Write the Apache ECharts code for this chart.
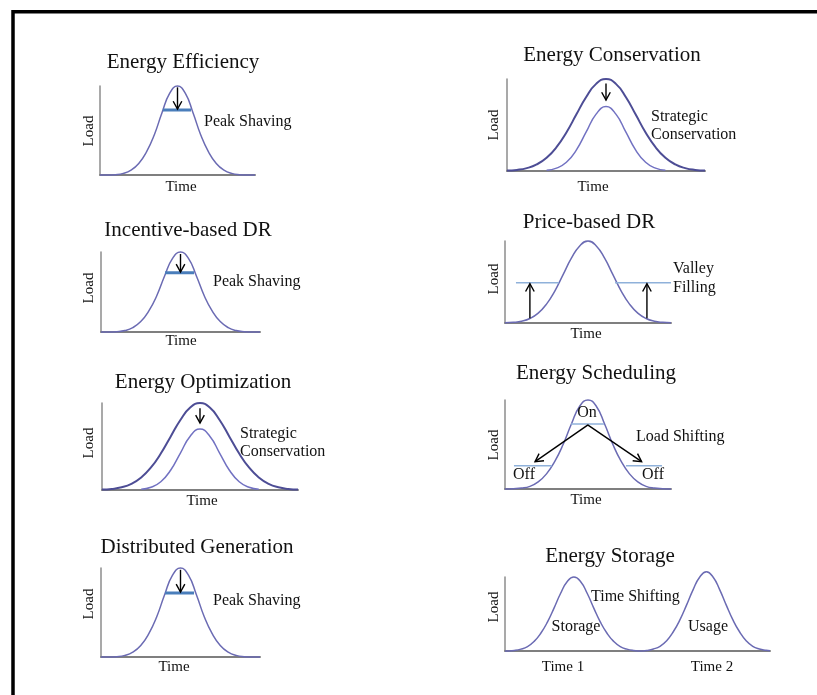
<!DOCTYPE html>
<html>
<head>
<meta charset="utf-8">
<script src="https://cdn.jsdelivr.net/npm/echarts@6/dist/echarts.min.js"></script>
<style>
  html, body { margin: 0; padding: 0; background: #fff; }
  #chart { width: 817px; height: 695px; }
</style>
</head>
<body>
<div id="chart"></div>
<script>
// time axis (arbitrary units, 0..100) shared by most panels
var time21 = [0, 5, 10, 15, 20, 25, 30, 35, 40, 45, 50, 55, 60, 65, 70, 75, 80, 85, 90, 95, 100];

// load curves (1 = peak of the original load)
var peakShavingLoad = [0, 0, 0.004, 0.018, 0.055, 0.13, 0.26, 0.45, 0.70, 0.92, 1, 0.92, 0.70, 0.45, 0.26, 0.13, 0.055, 0.018, 0.004, 0, 0];
var conservationBefore = [0.005, 0.012, 0.031, 0.071, 0.144, 0.259, 0.419, 0.613, 0.805, 0.947, 1, 0.947, 0.805, 0.613, 0.419, 0.259, 0.144, 0.071, 0.031, 0.012, 0.005];
var conservationAfterTime = [20, 25, 30, 35, 40, 45, 50, 55, 60, 65, 70, 75, 80];
var conservationAfter = [0.008, 0.031, 0.095, 0.227, 0.425, 0.618, 0.70, 0.618, 0.425, 0.227, 0.095, 0.031, 0.008];
var valleyLoad = [0.003, 0.008, 0.022, 0.055, 0.12, 0.23, 0.39, 0.59, 0.79, 0.94, 1, 0.94, 0.79, 0.59, 0.39, 0.23, 0.12, 0.055, 0.022, 0.008, 0.003];
var schedulingLoad = [0, 0.003, 0.01, 0.03, 0.08, 0.17, 0.31, 0.50, 0.73, 0.93, 1, 0.93, 0.73, 0.50, 0.31, 0.17, 0.08, 0.03, 0.01, 0.003, 0];
var storageTime1 = [0, 3.5, 6, 8.5, 11, 13.5, 16, 18.5, 21, 23.5, 26, 28.5, 31, 33.5, 36, 38.5, 41, 43.5, 46, 48.5, 52];
var storageLoad1 = [0, 0.008, 0.025, 0.06, 0.13, 0.24, 0.39, 0.58, 0.78, 0.94, 1, 0.94, 0.78, 0.58, 0.39, 0.24, 0.13, 0.06, 0.025, 0.008, 0];
var storageTime2 = [52, 53.5, 56, 58.5, 61, 63.5, 66, 68.5, 71, 73.5, 76, 78.5, 81, 83.5, 86, 88.5, 91, 93.5, 96, 98.5, 100];
var storageLoad2 = [0, 0.006, 0.027, 0.064, 0.14, 0.26, 0.42, 0.62, 0.83, 1.0, 1.07, 1.0, 0.83, 0.62, 0.42, 0.26, 0.14, 0.064, 0.027, 0.009, 0.003];

// reference levels [tStart, tEnd, load]
var shavingLevel1 = [40.6, 58.7, 0.73];
var shavingLevel3 = [40.3, 58.5, 0.74];
var shavingLevel7 = [40.3, 58.5, 0.72];
var valleyLevels = [[6.6, 32.5, 0.49], [66.3, 100, 0.49]];
var onLevel = [39.8, 59.6, 0.73];
var offLevels = [[5.4, 28.3, 0.26], [72.9, 94.6, 0.26]];

// arrows [tFrom, loadFrom, tTo, loadTo]
var arrowsP1 = [[50, 0.985, 50, 0.74]];
var arrowsP2 = [[50, 0.95, 50, 0.77]];
var arrowsP3 = [[50, 0.975, 50, 0.75]];
var arrowsP4 = [[15, 0.057, 15, 0.48], [85.5, 0.057, 85.5, 0.48]];
var arrowsP5 = [[50, 0.94, 50, 0.77]];
var arrowsP6 = [[50, 0.72, 18.1, 0.307], [49.8, 0.72, 82.3, 0.307]];
var arrowsP7 = [[50, 0.98, 50, 0.73]];

var CURVE = '#6b6bb3';
var SERIF = '"Liberation Serif", "DejaVu Serif", serif';

var chart = echarts.init(document.getElementById('chart'), null, { renderer: 'canvas' });

// one small grid per scheme
var panels = [
  { left: 100, top: 86, width: 155, height: 89 },   // Energy Efficiency
  { left: 507, top: 79, width: 198, height: 92 },   // Energy Conservation
  { left: 101, top: 252, width: 159, height: 80 },  // Incentive-based DR
  { left: 505, top: 241, width: 166, height: 82 },  // Price-based DR
  { left: 102, top: 403, width: 196, height: 87 },  // Energy Optimization
  { left: 505, top: 400, width: 166, height: 89 },  // Energy Scheduling
  { left: 101, top: 568, width: 159, height: 89 },  // Distributed Generation
  { left: 505, top: 577, width: 265, height: 74 }   // Energy Storage
];

var zip = function (xs, ys) {
  return xs.map(function (x, i) { return [x, ys[i]]; });
};

var curve = function (idx, xs, ys, color, width) {
  return {
    type: 'line', xAxisIndex: idx, yAxisIndex: idx,
    data: zip(xs, ys), showSymbol: false, smooth: 0.5, clip: false,
    lineStyle: { color: color || CURVE, width: width || 1.5 },
    silent: true, z: 3
  };
};

var level = function (idx, lv, color, width) {
  return {
    type: 'line', xAxisIndex: idx, yAxisIndex: idx,
    data: [[lv[0], lv[2]], [lv[1], lv[2]]], showSymbol: false, silent: true,
    lineStyle: { color: color, width: width },
    z: 4
  };
};

var arrowItem = function (params, api) {
  var p0 = api.coord([api.value(0), api.value(1)]);
  var p1 = api.coord([api.value(2), api.value(3)]);
  var dx = p1[0] - p0[0], dy = p1[1] - p0[1];
  var len = Math.sqrt(dx * dx + dy * dy);
  var ux = dx / len, uy = dy / len;
  var head = 9, ang = 0.5;
  var c = Math.cos(ang), s = Math.sin(ang);
  var w1 = [p1[0] - head * (ux * c - uy * s), p1[1] - head * (uy * c + ux * s)];
  var w2 = [p1[0] - head * (ux * c + uy * s), p1[1] - head * (uy * c - ux * s)];
  var st = { stroke: '#000', lineWidth: 1.4, fill: null };
  return {
    type: 'group',
    children: [
      { type: 'line', shape: { x1: p0[0], y1: p0[1], x2: p1[0], y2: p1[1] }, style: st },
      { type: 'polyline', shape: { points: [w1, p1, w2] }, style: st }
    ]
  };
};

var arrows = function (idx, data) {
  return {
    type: 'custom', xAxisIndex: idx, yAxisIndex: idx,
    data: data, renderItem: arrowItem, silent: true, clip: false, z: 5
  };
};

var grids = [], xAxes = [], yAxes = [];
panels.forEach(function (p, i) {
  grids.push({ left: p.left, top: p.top, width: p.width, height: p.height });
  xAxes.push({
    type: 'value', gridIndex: i, min: 0, max: 100,
    axisLine: { lineStyle: { color: '#7f7f7f', width: 2 } },
    axisTick: { show: false }, axisLabel: { show: false }, splitLine: { show: false }
  });
  yAxes.push({
    type: 'value', gridIndex: i, min: 0, max: 1,
    axisLine: { lineStyle: { color: '#8c8c8c', width: 1.5 } },
    axisTick: { show: false }, axisLabel: { show: false }, splitLine: { show: false }
  });
});

var series = [
  // Energy Efficiency
  curve(0, time21, peakShavingLoad),
  level(0, shavingLevel1, '#4a7ebb', 3),
  arrows(0, arrowsP1),
  // Energy Conservation
  curve(1, time21, conservationBefore, '#4d4d95', 2),
  curve(1, conservationAfterTime, conservationAfter, '#7272c2', 1.5),
  arrows(1, arrowsP2),
  // Incentive-based DR
  curve(2, time21, peakShavingLoad),
  level(2, shavingLevel3, '#4a7ebb', 3),
  arrows(2, arrowsP3),
  // Price-based DR
  curve(3, time21, valleyLoad),
  level(3, valleyLevels[0], '#8fb1da', 1.5),
  level(3, valleyLevels[1], '#8fb1da', 1.5),
  arrows(3, arrowsP4),
  // Energy Optimization
  curve(4, time21, conservationBefore, '#4d4d95', 2),
  curve(4, conservationAfterTime, conservationAfter, '#7272c2', 1.5),
  arrows(4, arrowsP5),
  // Energy Scheduling
  curve(5, time21, schedulingLoad),
  level(5, onLevel, '#8fb1da', 1.5),
  level(5, offLevels[0], '#8fb1da', 1.5),
  level(5, offLevels[1], '#8fb1da', 1.5),
  arrows(5, arrowsP6),
  // Distributed Generation
  curve(6, time21, peakShavingLoad),
  level(6, shavingLevel7, '#4a7ebb', 3),
  arrows(6, arrowsP7),
  // Energy Storage
  curve(7, storageTime1, storageLoad1),
  curve(7, storageTime2, storageLoad2)
];

// texts: [text, x, y, size, align, rotated]
var texts = [
  ['Energy Efficiency', 183, 62, 21, 'center'],
  ['Peak Shaving', 204, 122, 16, 'left'],
  ['Load', 89, 131, 15, 'center', true],
  ['Time', 181, 187, 15, 'center'],

  ['Energy Conservation', 612, 55, 21, 'center'],
  ['Strategic', 651, 117, 16, 'left'],
  ['Conservation', 651, 135, 16, 'left'],
  ['Load', 494, 125, 15, 'center', true],
  ['Time', 593, 187, 15, 'center'],

  ['Incentive-based DR', 188, 230, 21, 'center'],
  ['Peak Shaving', 213, 282, 16, 'left'],
  ['Load', 89, 288, 15, 'center', true],
  ['Time', 181, 341, 15, 'center'],

  ['Price-based DR', 589, 222, 21, 'center'],
  ['Valley', 673, 269, 16, 'left'],
  ['Filling', 673, 288, 16, 'left'],
  ['Load', 494, 279, 15, 'center', true],
  ['Time', 586, 334, 15, 'center'],

  ['Energy Optimization', 203, 382, 21, 'center'],
  ['Strategic', 240, 434, 16, 'left'],
  ['Conservation', 240, 452, 16, 'left'],
  ['Load', 89, 443, 15, 'center', true],
  ['Time', 202, 501, 15, 'center'],

  ['Energy Scheduling', 596, 373, 21, 'center'],
  ['On', 587, 413, 16, 'center'],
  ['Load Shifting', 636, 437, 16, 'left'],
  ['Off', 524, 475, 16, 'center'],
  ['Off', 653, 475, 16, 'center'],
  ['Load', 494, 445, 15, 'center', true],
  ['Time', 586, 500, 15, 'center'],

  ['Distributed Generation', 197, 547, 21, 'center'],
  ['Peak Shaving', 213, 601, 16, 'left'],
  ['Load', 89, 604, 15, 'center', true],
  ['Time', 174, 667, 15, 'center'],

  ['Energy Storage', 610, 556, 21, 'center'],
  ['Time Shifting', 591, 597, 16, 'left'],
  ['Storage', 576, 627, 16, 'center'],
  ['Usage', 708, 627, 16, 'center'],
  ['Load', 494, 607, 15, 'center', true],
  ['Time 1', 563, 667, 15, 'center'],
  ['Time 2', 712, 667, 15, 'center']
];

var graphics = [{
  type: 'rect', silent: true, z: 10,
  shape: { x: 13, y: 11.7, width: 1000, height: 1000 },
  style: { fill: null, stroke: '#000', lineWidth: 3.5 }
}];
texts.forEach(function (t) {
  graphics.push({
    type: 'text', x: t[1], y: t[2], rotation: t[5] ? Math.PI / 2 : 0, silent: true, z: 10,
    style: {
      text: t[0], fill: '#111',
      font: t[3] + 'px ' + SERIF,
      textAlign: t[4], textVerticalAlign: 'middle'
    }
  });
});

chart.setOption({
  animation: false,
  backgroundColor: '#fff',
  grid: grids,
  xAxis: xAxes,
  yAxis: yAxes,
  series: series,
  graphic: graphics
});
</script>
</body>
</html>
